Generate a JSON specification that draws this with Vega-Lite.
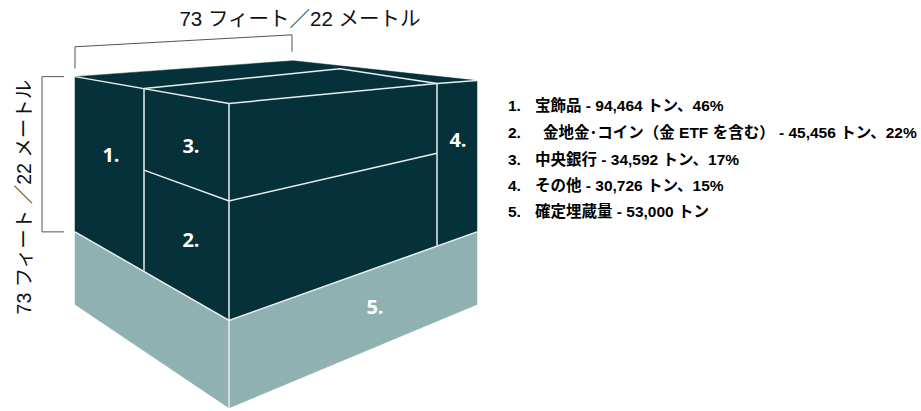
{
  "$schema": "https://vega.github.io/schema/vega-lite/v6.json",
  "autosize": {"type": "fit", "contains": "padding"},
  "width": 921,
  "height": 411,
  "padding": 0,
  "background": "white",
  "config": {"view": {"stroke": null}},
  "datasets": {
    "dark": [
      {"shape": "top", "i": 0, "x": 75, "y": 77},
      {"shape": "top", "i": 1, "x": 293, "y": 61},
      {"shape": "top", "i": 2, "x": 477, "y": 81},
      {"shape": "top", "i": 3, "x": 477, "y": 233},
      {"shape": "top", "i": 4, "x": 229, "y": 322},
      {"shape": "top", "i": 5, "x": 75, "y": 233}
    ],
    "teal": [
      {"shape": "base", "i": 0, "x": 75, "y": 233},
      {"shape": "base", "i": 1, "x": 229, "y": 322},
      {"shape": "base", "i": 2, "x": 477, "y": 233},
      {"shape": "base", "i": 3, "x": 477, "y": 306},
      {"shape": "base", "i": 4, "x": 229, "y": 410},
      {"shape": "base", "i": 5, "x": 75, "y": 306}
    ],
    "edges": [
      {"seg": "a", "i": 0, "x": 75, "y": 77},
      {"seg": "a", "i": 1, "x": 229, "y": 104},
      {"seg": "b", "i": 0, "x": 229, "y": 104},
      {"seg": "b", "i": 1, "x": 437, "y": 84},
      {"seg": "b", "i": 2, "x": 477, "y": 81},
      {"seg": "c", "i": 0, "x": 144, "y": 89},
      {"seg": "c", "i": 1, "x": 340, "y": 69},
      {"seg": "c", "i": 2, "x": 437, "y": 84},
      {"seg": "d", "i": 0, "x": 144, "y": 89},
      {"seg": "d", "i": 1, "x": 144, "y": 272},
      {"seg": "e", "i": 0, "x": 229, "y": 104},
      {"seg": "e", "i": 1, "x": 229, "y": 410},
      {"seg": "f", "i": 0, "x": 437, "y": 84},
      {"seg": "f", "i": 1, "x": 437, "y": 247},
      {"seg": "g", "i": 0, "x": 144, "y": 171},
      {"seg": "g", "i": 1, "x": 229, "y": 202},
      {"seg": "g", "i": 2, "x": 437, "y": 154},
      {"seg": "h", "i": 0, "x": 75, "y": 233},
      {"seg": "h", "i": 1, "x": 229, "y": 322},
      {"seg": "h", "i": 2, "x": 477, "y": 233}
    ],
    "brackets": [
      {"seg": "top", "i": 0, "x": 75, "y": 69},
      {"seg": "top", "i": 1, "x": 75, "y": 47},
      {"seg": "top", "i": 2, "x": 292, "y": 35},
      {"seg": "top", "i": 3, "x": 292, "y": 52},
      {"seg": "left", "i": 0, "x": 64, "y": 77},
      {"seg": "left", "i": 1, "x": 42, "y": 77},
      {"seg": "left", "i": 2, "x": 42, "y": 233},
      {"seg": "left", "i": 3, "x": 64, "y": 233}
    ],
    "cubeLabels": [
      {"label": "1.", "x": 111, "y": 157},
      {"label": "3.", "x": 191, "y": 148},
      {"label": "2.", "x": 191, "y": 242},
      {"label": "4.", "x": 458, "y": 142},
      {"label": "5.", "x": 375, "y": 310}
    ],
    "legend": [
      {"num": "1.", "text": "宝飾品 - 94,464 トン、46%", "x": 508, "tx": 535, "y": 107},
      {"num": "2.", "text": "金地金･コイン（金 ETF を含む） - 45,456 トン、22%", "x": 508, "tx": 543, "y": 134},
      {"num": "3.", "text": "中央銀行 - 34,592 トン、17%", "x": 508, "tx": 535, "y": 161},
      {"num": "4.", "text": "その他 - 30,726 トン、15%", "x": 508, "tx": 535, "y": 187},
      {"num": "5.", "text": "確定埋蔵量 - 53,000 トン", "x": 508, "tx": 535, "y": 213}
    ],
    "dims": [
      {"label": "73 フィート／22 メートル", "x": 300, "y": 20, "angle": 0, "size": 20.5},
      {"label": "73 フィート ／22 メートル", "x": 25, "y": 198, "angle": 270, "size": 19.5}
    ]
  },
  "encoding": {
    "x": {"field": "x", "type": "quantitative", "scale": {"domain": [0, 921], "nice": false, "zero": false}, "axis": null},
    "y": {"field": "y", "type": "quantitative", "scale": {"domain": [0, 411], "nice": false, "zero": false, "reverse": true}, "axis": null}
  },
  "layer": [
    {
      "data": {"name": "dark"},
      "mark": {"type": "line", "fill": "#04313a", "stroke": "#04313a", "strokeWidth": 0.5, "interpolate": "linear-closed"},
      "encoding": {"detail": {"field": "shape"}, "order": {"field": "i", "type": "quantitative"}}
    },
    {
      "data": {"name": "teal"},
      "mark": {"type": "line", "fill": "#8fb1b1", "stroke": "#8fb1b1", "strokeWidth": 0.5, "interpolate": "linear-closed"},
      "encoding": {"detail": {"field": "shape"}, "order": {"field": "i", "type": "quantitative"}}
    },
    {
      "data": {"name": "edges"},
      "mark": {"type": "line", "stroke": "#e8eeee", "strokeWidth": 1.5},
      "encoding": {"detail": {"field": "seg"}, "order": {"field": "i", "type": "quantitative"}}
    },
    {
      "data": {"name": "brackets"},
      "mark": {"type": "line", "stroke": "#555555", "strokeWidth": 1},
      "encoding": {"detail": {"field": "seg"}, "order": {"field": "i", "type": "quantitative"}}
    },
    {
      "data": {"name": "cubeLabels"},
      "mark": {"type": "text", "font": "Open Sans", "fontWeight": "bold", "fontSize": 20, "fill": "white", "align": "center", "baseline": "middle"},
      "encoding": {"text": {"field": "label"}}
    },
    {
      "data": {"name": "dims"},
      "mark": {"type": "text", "font": "Liberation Sans, Noto Sans CJK JP", "fill": "#111111", "align": "center", "baseline": "middle"},
      "encoding": {
        "text": {"field": "label"},
        "angle": {"field": "angle", "type": "quantitative", "scale": null},
        "size": {"field": "size", "type": "quantitative", "scale": null}
      }
    },
    {
      "data": {"name": "legend"},
      "mark": {"type": "text", "font": "Liberation Sans, Noto Sans CJK JP", "fontWeight": "bold", "fontSize": 15.5, "fill": "#000000", "align": "left", "baseline": "middle"},
      "encoding": {"text": {"field": "num"}}
    },
    {
      "data": {"name": "legend"},
      "mark": {"type": "text", "font": "Liberation Sans, Noto Sans CJK JP", "fontWeight": "bold", "fontSize": 15.5, "fill": "#000000", "align": "left", "baseline": "middle"},
      "encoding": {"text": {"field": "text"}, "x": {"field": "tx", "type": "quantitative"}}
    }
  ]
}
